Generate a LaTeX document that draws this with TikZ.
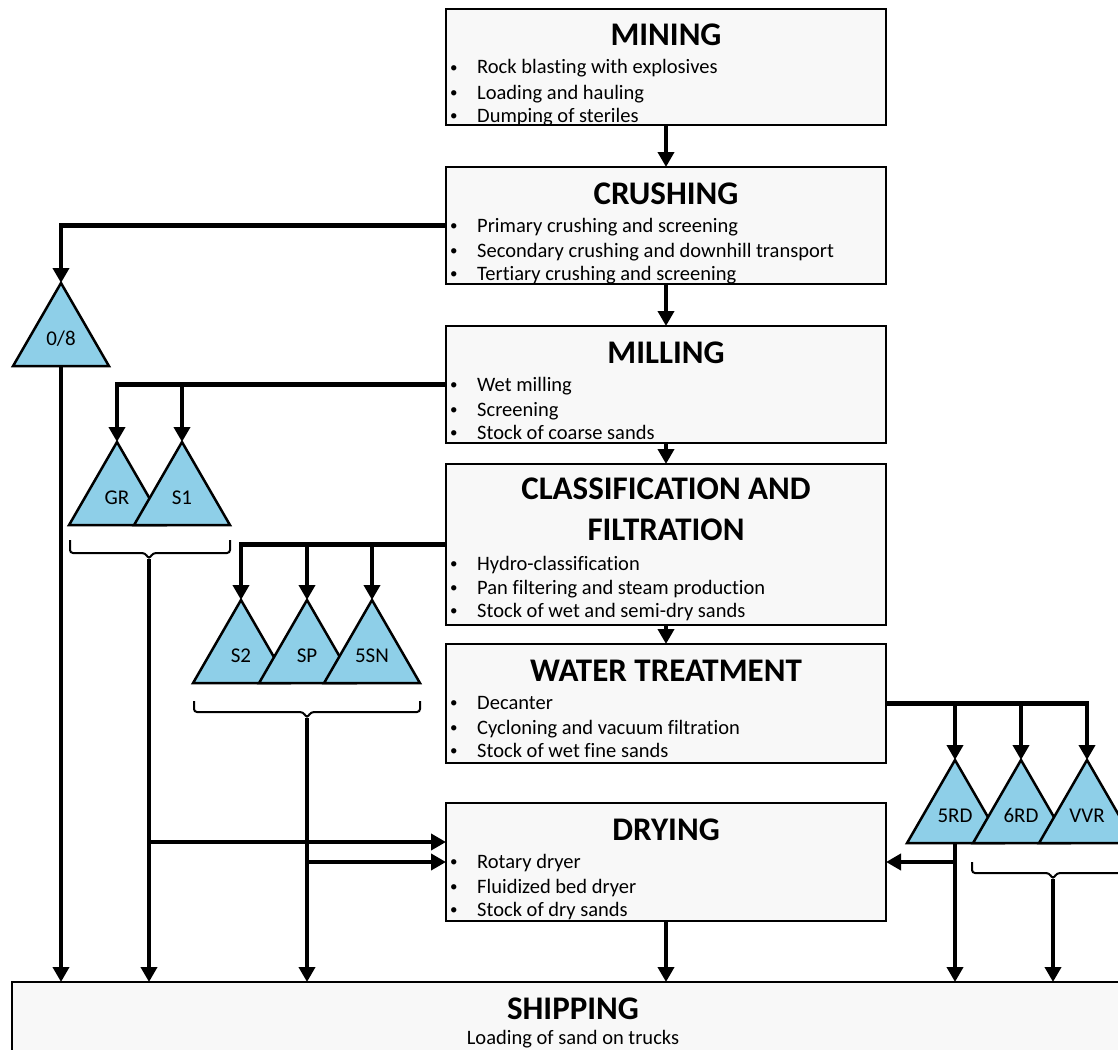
\documentclass[tikz,border=0pt]{standalone}
\usepackage{fontspec}
\setmainfont{Carlito}[Ligatures=NoCommon]
\usetikzlibrary{arrows.meta,shapes.geometric}
\definecolor{tri}{RGB}{142,207,232}
\definecolor{boxg}{RGB}{248,248,248}
\tikzset{
 stage/.style={draw=black, line width=2.5pt, fill=boxg, anchor=north west, minimum width=440pt, inner sep=0pt, outer sep=0pt},
 ttl/.style={font=\fontsize{33}{41}\selectfont\bfseries, anchor=base, inner sep=0pt},
 lst/.style={font=\fontsize{20.5}{23.5}\selectfont, anchor=base west, inner sep=0pt},
 pile/.style={regular polygon, regular polygon sides=3, minimum size=110.9pt, draw=black, line width=2.5pt, fill=tri, anchor=north, inner sep=0pt, outer sep=0pt, font=\fontsize{21}{24}\selectfont},
 flow/.style={line width=4.5pt, -{Triangle[length=15pt,width=16pt]}},
 bracket/.style={line width=2pt, rounded corners=3pt},
}
\newcommand\bl{\hspace*{2pt}\raisebox{1.8pt}{\fontsize{15}{15}\selectfont\textbullet}}
\begin{document}
\begin{tikzpicture}[x=1pt,y=-1pt]
\clip (0,0) rectangle (1118,1049);
\fill[white] (0,0) rectangle (1118,1049);
% stage boxes
\node[stage, minimum height=116pt] (mining) at (446,9) {};
\node[stage, minimum height=117pt] (crushing) at (446,167) {};
\node[stage, minimum height=117pt] (milling) at (446,326) {};
\node[stage, minimum height=161pt] (classif) at (446,464) {};
\node[stage, minimum height=119pt] (water) at (446,644) {};
\node[stage, minimum height=118pt] (drying) at (446,803) {};
\node[stage, minimum width=1122pt, minimum height=100pt] (shipping) at (12,982) {};
% titles
\node[ttl] (miningT) at (666,46) {MINING};
\node[ttl] (crushingT) at (666,204) {CRUSHING};
\node[ttl] (millingT) at (666,363) {MILLING};
\node[ttl] (classifT) at (666,499) {\begin{tabular}[t]{@{}c@{}}CLASSIFICATION AND\\FILTRATION\end{tabular}};
\node[ttl] (waterT) at (666,681) {WATER TREATMENT};
\node[ttl] (dryingT) at (666,840) {DRYING};
\node[ttl] (shippingT) at (573,1019) {SHIPPING};
\node[lst, anchor=base] (shippingL) at (573,1044) {Loading of sand on trucks};
% bullet lists
\node[lst] (miningL) at (448,74) {\begin{tabular}[t]{@{}p{29pt}@{}l@{}}\bl&Rock blasting with explosives\\[1.5pt]\bl&Loading and hauling\\\bl&Dumping of steriles\end{tabular}};
\node[lst] (crushingL) at (448,232) {\begin{tabular}[t]{@{}p{29pt}@{}l@{}}\bl&Primary crushing and screening\\[1.5pt]\bl&Secondary crushing and downhill transport\\\bl&Tertiary crushing and screening\end{tabular}};
\node[lst] (millingL) at (448,391) {\begin{tabular}[t]{@{}p{29pt}@{}l@{}}\bl&Wet milling\\[1.5pt]\bl&Screening\\\bl&Stock of coarse sands\end{tabular}};
\node[lst] (classifL) at (448,570) {\begin{tabular}[t]{@{}p{29pt}@{}l@{}}\bl&Hydro-classification\\[0.5pt]\bl&Pan filtering and steam production\\\bl&Stock of wet and semi-dry sands\end{tabular}};
\node[lst] (waterL) at (448,709) {\begin{tabular}[t]{@{}p{29pt}@{}l@{}}\bl&Decanter\\[1.5pt]\bl&Cycloning and vacuum filtration\\\bl&Stock of wet fine sands\end{tabular}};
\node[lst] (dryingL) at (448,868) {\begin{tabular}[t]{@{}p{29pt}@{}l@{}}\bl&Rotary dryer\\[1.5pt]\bl&Fluidized bed dryer\\\bl&Stock of dry sands\end{tabular}};
% main chain
\draw[flow] (mining) -- (crushing);
\draw[flow] (crushing) -- (milling);
\draw[flow] (milling) -- (classif);
\draw[flow] (classif) -- (water);
\draw[flow] (drying) -- (drying.south |- shipping.north);
% stockpiles
\node[pile] (t08) at (61,283) {0/8};
\node[pile] (tGR) at (117,442) {GR};
\node[pile] (tS1) at (182,442) {S1};
\node[pile] (tS2) at (241,600) {S2};
\node[pile] (tSP) at (307,600) {SP};
\node[pile] (t5SN) at (372,600) {5SN};
\node[pile] (t5RD) at (955,760) {5RD};
\node[pile] (t6RD) at (1021,760) {6RD};
\node[pile] (tVVR) at (1087,760) {VVR};
% feeds to stockpiles
\draw[flow] (crushing.west) -| (t08.north);
\draw[flow] (milling.west) -| (tGR.north);
\draw[flow] (tS1.north |- milling.west) -- (tS1.north);
\draw[flow] (classif.west) -| (tS2.north);
\draw[flow] (tSP.north |- classif.west) -- (tSP.north);
\draw[flow] (t5SN.north |- classif.west) -- (t5SN.north);
\draw[flow] (water.east) -| (tVVR.north);
\draw[flow] (t5RD.north |- water.east) -- (t5RD.north);
\draw[flow] (t6RD.north |- water.east) -- (t6RD.north);
% brackets
\draw[bracket] (70,540) -- (70,553) -- (145,553) -- (149,559) -- (153,553) -- (230,553) -- (230,540);
\coordinate (bA) at (149,559);
\draw[bracket] (194,701) -- (194,712) -- (303,712) -- (307,718) -- (311,712) -- (420,712) -- (420,701);
\coordinate (bB) at (307,718);
\draw[bracket] (972,862) -- (972,873) -- (1049,873) -- (1053,879) -- (1057,873) -- (1140,873) -- (1140,862);
\coordinate (bC) at (1053,879);
% to shipping
\draw[flow] (t08.south) -- (t08.south |- shipping.north);
\draw[flow] (bA) -- (bA |- shipping.north);
\draw[flow] (bB) -- (bB |- shipping.north);
\draw[flow] (t5RD.south) -- (t5RD.south |- shipping.north);
\draw[flow] (bC) -- (bC |- shipping.north);
% to drying
\coordinate (jA) at (149,842);
\draw[flow] (jA) -- (jA -| drying.west);
\coordinate (jB) at (307,862);
\draw[flow] (jB) -- (jB -| drying.west);
\coordinate (jC) at (955,862);
\draw[flow] (jC) -- (jC -| drying.east);
\end{tikzpicture}
\end{document}
